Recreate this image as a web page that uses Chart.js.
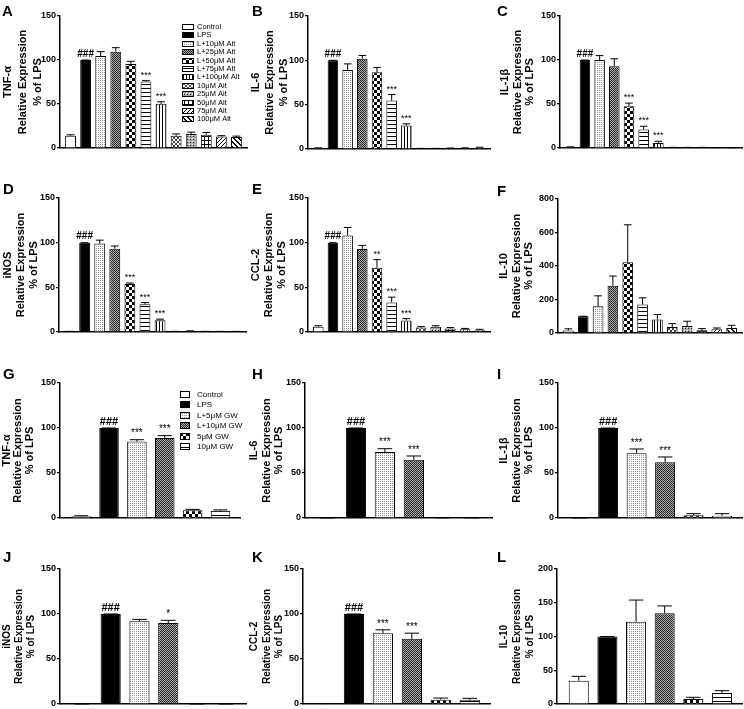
<!DOCTYPE html>
<html lang="en">
<head>
<meta charset="UTF-8">
<title>Relative expression panels</title>
<script src="https://cdn.jsdelivr.net/npm/chart.js"></script>
<style>
  body { margin: 0; background: #fff; }
  #fig { position: relative; width: 744px; height: 709px; overflow: hidden; font-family: "Liberation Sans", Arial, sans-serif; }
  #fig canvas { position: absolute; }
  .tag { position: absolute; font-weight: bold; font-size: 15px; line-height: 15px; color: #000; }
</style>
</head>
<body>
<div id="fig"></div>
<script>
// categories
const altLabels = ['Control', 'LPS', 'L+10μM Alt', 'L+25μM Alt', 'L+50μM Alt', 'L+75μM Alt', 'L+100μM Alt',
                   '10μM Alt', '25μM Alt', '50μM Alt', '75μM Alt', '100μM Alt'];
const gwLabels = ['Control', 'LPS', 'L+5μM GW', 'L+10μM GW', '5μM GW', '10μM GW'];

// Alt panels (A-F): mean, SEM, significance marks
const tnfAlt = [14, 100, 104.5, 109.5, 95.5, 75.5, 50.2, 14, 16, 15, 13, 12.5];
const tnfAltErr = [1, 0, 5, 4.5, 3, 1, 2.3, 2, 2, 2.7, 1, 1];
const tnfAltSig = ['', '###', '', '', '', '***', '***', '', '', '', '', ''];

const il6Alt = [1, 100, 89, 101.8, 86.7, 54.6, 26.4, 0.5, 0.5, 0.8, 1, 1.5];
const il6AltErr = [0.3, 0, 7, 3.7, 5.3, 6.8, 2, 0.2, 0.2, 0.3, 0.3, 0.5];
const il6AltSig = ['', '###', '', '', '', '***', '***', '', '', '', '', ''];

const il1Alt = [1, 100, 100, 93, 47.5, 21, 5.7, 0.5, 0.5, 0.5, 0.3, 0.2];
const il1AltErr = [0.3, 0, 5, 8.4, 3.5, 3.7, 1.9, 0.2, 0.2, 0.2, 0.1, 0.1];
const il1AltSig = ['', '###', '', '', '***', '***', '***', '', '', '', '', ''];

const inosAlt = [0.5, 100, 99, 93.3, 53.6, 31, 13.2, 0.5, 1, 0.5, 0.5, 0.5];
const inosAltErr = [0.2, 0, 3.8, 3, 1.2, 1.9, 1.2, 0.2, 0.3, 0.2, 0.2, 0.2];
const inosAltSig = ['', '###', '', '', '***', '***', '***', '', '', '', '', ''];

const ccl2Alt = [6, 100, 108, 93, 72, 33, 13, 5, 6, 4, 3, 2];
const ccl2AltErr = [1, 0, 9, 4, 9, 6, 2, 1, 1, 1, 1, 1];
const ccl2AltSig = ['', '###', '', '', '**', '***', '***', '', '', '', '', ''];

const il10Alt = [15, 100, 160, 282, 422, 170, 80, 36, 42, 16, 22, 30];
const il10AltErr = [10, 0, 62, 58, 224, 40, 30, 20, 28, 10, 8, 16];
const il10AltSig = ['', '', '', '', '', '', '', '', '', '', '', ''];

// GW panels (G-L)
const tnfGw = [2, 100, 85, 89, 8.5, 8.1];
const tnfGwErr = [0.5, 0, 2, 2.5, 1.1, 0.9];
const tnfGwSig = ['', '###', '***', '***', '', ''];

const il6Gw = [0, 100, 73.3, 64.8, 0.2, 0.2];
const il6GwErr = [0, 0, 3.7, 4.1, 0, 0];
const il6GwSig = ['', '###', '***', '***', '', ''];

const il1Gw = [0, 100, 72, 62, 3, 2.6];
const il1GwErr = [0, 0, 4.7, 5.8, 1.8, 2.2];
const il1GwSig = ['', '###', '***', '***', '', ''];

const inosGw = [0, 100, 92, 90, 0, 0];
const inosGwErr = [0, 0, 2, 3, 0, 0];
const inosGwSig = ['', '###', '', '*', '', ''];

const ccl2Gw = [0.5, 100, 78.7, 72.4, 4.8, 4.8];
const ccl2GwErr = [0, 0, 3.7, 6.3, 1.8, 1.5];
const ccl2GwSig = ['', '###', '***', '***', '', ''];

const il10Gw = [34.5, 100, 122, 134.5, 7.4, 16.3];
const il10GwErr = [6.5, 0, 32, 10.8, 2.5, 3.4];
const il10GwSig = ['', '', '', '', '', ''];

// fill styles per category
const altFills = ['white', 'black', 'stipple', 'dense', 'checker', 'hstripe', 'vstripe', 'cross', 'dotgrey', 'grid', 'diag', 'bdiag'];
const gwFills = ['white', 'black', 'stipple', 'dense', 'checker', 'hstripe'];

Chart.defaults.font.family = '"Liberation Sans", Arial, sans-serif';
Chart.defaults.color = '#000';

function makeFill(kind) {
    if (kind === 'white') return '#ffffff';
    if (kind === 'black') return '#000000';
    const size = { stipple: 2, dense: 2, checker: 6, hstripe: 4, vstripe: 3, cross: 4, dotgrey: 3, grid: 4, diag: 4, bdiag: 5 }[kind];
    const c = document.createElement('canvas');
    c.width = c.height = size;
    const g = c.getContext('2d');
    g.fillStyle = '#fff';
    g.fillRect(0, 0, size, size);
    const px = (x, y, col) => { g.fillStyle = col || '#000'; g.fillRect(x, y, 1, 1); };
    switch (kind) {
        case 'stipple': px(0, 0, '#9a9a9a'); break;
        case 'dense': g.fillStyle = '#aaa'; g.fillRect(0, 0, 2, 2); px(0, 0, '#222'); px(1, 1, '#333'); break;
        case 'checker': g.fillStyle = '#000'; g.fillRect(0, 0, 3, 3); g.fillRect(3, 3, 3, 3); break;
        case 'hstripe': g.fillStyle = '#000'; g.fillRect(0, 0, 4, 1); break;
        case 'vstripe': g.fillStyle = '#000'; g.fillRect(0, 0, 1, 3); break;
        case 'cross': for (let i = 0; i < 4; i++) { px(i, i, '#444'); px(3 - i, i, '#444'); } break;
        case 'dotgrey': g.fillStyle = '#aaa'; g.fillRect(0, 0, 3, 3); px(1, 1, '#222'); px(0, 0, '#fff'); break;
        case 'grid': g.fillStyle = '#000'; g.fillRect(0, 0, 4, 1); g.fillRect(0, 0, 1, 4); break;
        case 'diag': for (let i = 0; i < 4; i++) px(i, 3 - i); break;
        case 'bdiag': for (let i = 0; i < 5; i++) { px(i, i); px((i + 1) % 5, i); } break;
    }
    return g.createPattern(c, 'repeat');
}

// where each panel sits on the page (tl = left of axis title, lh = title line height)
const frames = {
    A: { x0: 0,   w: 248, tl: 0,   lh: 15,   ax: 60,  r: 247, t: 16,  b: 148, fs: 11 },
    B: { x0: 248, w: 247, tl: 249, lh: 14,   ax: 308, r: 490, t: 16,  b: 149, fs: 11 },
    C: { x0: 495, w: 249, tl: 499, lh: 12.5, ax: 560, r: 742, t: 16,  b: 148, fs: 11 },
    D: { x0: 0,   w: 248, tl: 1,   lh: 13,   ax: 59,  r: 246, t: 198, b: 332, fs: 11 },
    E: { x0: 248, w: 247, tl: 249, lh: 13,   ax: 308, r: 490, t: 198, b: 332, fs: 11 },
    F: { x0: 495, w: 249, tl: 498, lh: 12.5, ax: 558, r: 742, t: 199, b: 333, fs: 11 },
    G: { x0: 0,   w: 248, tl: 1,   lh: 11.5, ax: 60,  r: 240, t: 383, b: 518, fs: 11 },
    H: { x0: 248, w: 247, tl: 248, lh: 12.5, ax: 305, r: 492, t: 383, b: 518, fs: 11 },
    I: { x0: 495, w: 249, tl: 498, lh: 12.5, ax: 558, r: 742, t: 383, b: 518, fs: 11 },
    J: { x0: 0,   w: 248, tl: 1,   lh: 12,   ax: 60,  r: 246, t: 569, b: 704, fs: 10 },
    K: { x0: 248, w: 247, tl: 248, lh: 12.5, ax: 303, r: 490, t: 569, b: 704, fs: 10 },
    L: { x0: 495, w: 249, tl: 498, lh: 13,   ax: 557, r: 742, t: 569, b: 704, fs: 10 }
};
const tagPos = {
    A: [2, 3], B: [252, 3], C: [497, 3],
    D: [3, 181], E: [252, 181], F: [497, 183],
    G: [3, 366], H: [252, 366], I: [497, 366],
    J: [3, 549], K: [252, 549], L: [497, 549]
};
const keys = {
    A: { bx: 182, bw: 12, bh: 6, y0: 27, step: 8.4, tx: 197, fs: 7.5 },
    G: { bx: 180, bw: 10, bh: 7, y0: 395, step: 10.4, tx: 197, fs: 8 }
};

const fig = document.getElementById('fig');

function errorPlugin(vals, err, sig, sigSize) {
    return {
        id: 'errorMarks',
        afterDatasetsDraw(chart) {
            const ctx = chart.ctx;
            const y = chart.scales.y;
            const meta = chart.getDatasetMeta(0);
            ctx.save();
            ctx.strokeStyle = '#000';
            ctx.fillStyle = '#000';
            ctx.lineWidth = 1;
            ctx.textAlign = 'center';
            ctx.textBaseline = 'bottom';
            meta.data.forEach((bar, i) => {
                const top = y.getPixelForValue(vals[i] + err[i]);
                const cap = bar.width * 0.36;
                ctx.beginPath();
                ctx.moveTo(bar.x, bar.y);
                ctx.lineTo(bar.x, top);
                ctx.moveTo(bar.x - cap, top);
                ctx.lineTo(bar.x + cap, top);
                ctx.stroke();
                if (sig[i]) {
                    const hash = sig[i][0] === '#';
                    ctx.font = (hash ? 'bold ' : '') + (hash ? sigSize : sigSize - 1) + 'px "Liberation Sans", Arial, sans-serif';
                    ctx.fillText(sig[i], bar.x, top - 1);
                }
            });
            ctx.restore();
        }
    };
}

function keyPlugin(k, labels, fills, ox, oy) {
    return {
        id: 'keyBox',
        afterDraw(chart) {
            const ctx = chart.ctx;
            ctx.save();
            ctx.font = k.fs + 'px "Liberation Sans", Arial, sans-serif';
            ctx.textBaseline = 'middle';
            ctx.lineWidth = 1;
            ctx.strokeStyle = '#000';
            labels.forEach((lab, i) => {
                const cy = Math.round(k.y0 + i * k.step - oy);
                const bx = k.bx - ox;
                const by = cy - Math.round(k.bh / 2);
                ctx.fillStyle = fills[i];
                ctx.fillRect(bx, by, k.bw, k.bh);
                ctx.strokeRect(bx + 0.5, by + 0.5, k.bw - 1, k.bh - 1);
                ctx.fillStyle = '#000';
                ctx.fillText(lab, k.tx - ox, cy);
            });
            ctx.restore();
        }
    };
}

function drawPanel(letter, title, vals, err, sig, max, step, isAlt) {
    const f = frames[letter];
    const top = f.t - 16;
    const h = f.b + 10 - top;
    const cv = document.createElement('canvas');
    cv.width = f.w;
    cv.height = h;
    cv.style.left = f.x0 + 'px';
    cv.style.top = top + 'px';
    cv.style.width = f.w + 'px';
    cv.style.height = h + 'px';
    fig.appendChild(cv);

    const labels = isAlt ? altLabels : gwLabels;
    const fills = (isAlt ? altFills : gwFills).map(makeFill);
    const xr = isAlt ? [-0.7, 11.7] : [-0.76, 5.7];
    const plugins = [errorPlugin(vals, err, sig, isAlt ? 10 : 11)];
    if (keys[letter]) plugins.push(keyPlugin(keys[letter], labels, fills, f.x0, top));

    new Chart(cv, {
        type: 'bar',
        data: {
            labels: labels,
            datasets: [{
                data: vals.map((v, i) => ({ x: i, y: v })),
                backgroundColor: fills,
                borderColor: '#000',
                borderWidth: 1,
                barPercentage: isAlt ? 0.72 : 0.7,
                categoryPercentage: 1
            }]
        },
        options: {
            responsive: false,
            animation: false,
            layout: { padding: { left: f.tl - f.x0, top: 16, right: f.x0 + f.w - f.r, bottom: 10 } },
            plugins: { legend: { display: false }, tooltip: { enabled: false } },
            scales: {
                x: {
                    type: 'linear', min: xr[0], max: xr[1], offset: false,
                    ticks: { display: false },
                    grid: { display: false, offset: false },
                    border: { display: true, color: '#000', width: 1.5 },
                    afterFit(s) { s.height = 0; }
                },
                y: {
                    min: 0, max: max,
                    ticks: { stepSize: step, font: { size: 9, weight: 'bold' }, padding: 1, color: '#000' },
                    grid: { display: true, drawOnChartArea: false, drawTicks: true, tickLength: 3, color: '#000', lineWidth: 1.2 },
                    border: { display: true, color: '#000', width: 1.5 },
                    title: {
                        display: true,
                        text: [title, 'Relative Expression', '% of LPS'],
                        font: { size: f.fs, weight: 'bold', lineHeight: f.lh + 'px' },
                        padding: 0,
                        color: '#000'
                    },
                    afterFit(s) { s.width = f.ax - f.tl; }
                }
            }
        },
        plugins: plugins
    });
}

drawPanel('A', 'TNF-α', tnfAlt, tnfAltErr, tnfAltSig, 150, 50, true);
drawPanel('B', 'IL-6', il6Alt, il6AltErr, il6AltSig, 150, 50, true);
drawPanel('C', 'IL-1β', il1Alt, il1AltErr, il1AltSig, 150, 50, true);
drawPanel('D', 'iNOS', inosAlt, inosAltErr, inosAltSig, 150, 50, true);
drawPanel('E', 'CCL-2', ccl2Alt, ccl2AltErr, ccl2AltSig, 150, 50, true);
drawPanel('F', 'IL-10', il10Alt, il10AltErr, il10AltSig, 800, 200, true);
drawPanel('G', 'TNF-α', tnfGw, tnfGwErr, tnfGwSig, 150, 50, false);
drawPanel('H', 'IL-6', il6Gw, il6GwErr, il6GwSig, 150, 50, false);
drawPanel('I', 'IL-1β', il1Gw, il1GwErr, il1GwSig, 150, 50, false);
drawPanel('J', 'iNOS', inosGw, inosGwErr, inosGwSig, 150, 50, false);
drawPanel('K', 'CCL-2', ccl2Gw, ccl2GwErr, ccl2GwSig, 150, 50, false);
drawPanel('L', 'IL-10', il10Gw, il10GwErr, il10GwSig, 200, 50, false);

// panel letters
Object.keys(tagPos).forEach(k => {
    const d = document.createElement('div');
    d.className = 'tag';
    d.textContent = k;
    d.style.left = tagPos[k][0] + 'px';
    d.style.top = tagPos[k][1] + 'px';
    fig.appendChild(d);
});
</script>
</body>
</html>
